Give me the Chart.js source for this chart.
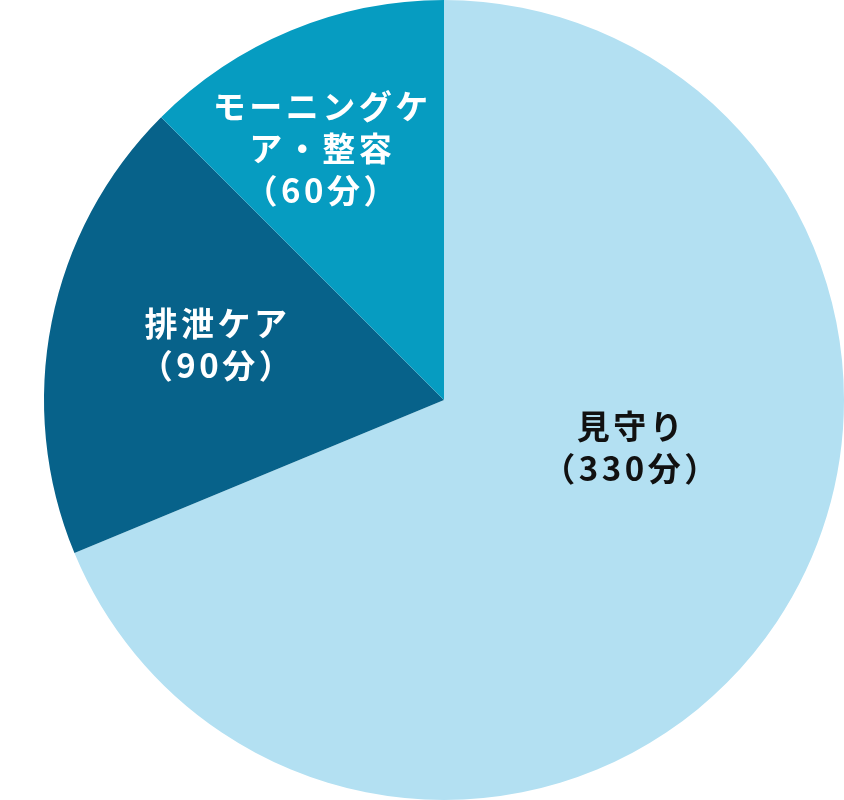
<!DOCTYPE html>
<html lang="ja">
<head>
  <meta charset="UTF-8" />
  <title>ケア時間の内訳</title>
  <style>
    body {
      margin: 0;
      padding: 0;
      background-color: #ffffff;
    }
    canvas {
      display: block;
    }
  </style>
</head>
<body>
  <canvas id="chart" width="844" height="800"></canvas>

  <script src="https://cdn.jsdelivr.net/npm/chart.js"></script>
  <script>
    const categories = ["見守り", "排泄ケア", "モーニングケア・整容"];
    const minutes = [330, 90, 60];
    // how each label is broken into lines on the chart
    const labelLines = [
      ["見守り"],
      ["排泄ケア"],
      ["モーニングケ", "ア・整容"]
    ];
    const sliceColors = ["#b3e0f2", "#07628a", "#069cc1"];
    const textColors = ["#111111", "#ffffff", "#ffffff"];
    // label block centre, as a fraction of the radius from the pie centre
    const labelOffsets = [[0.465, 0.118], [-0.57, -0.138], [-0.308, -0.63]];

    const sliceLabels = {
      id: "sliceLabels",
      afterDatasetsDraw(chart) {
        const ctx = chart.ctx;
        const arcs = chart.getDatasetMeta(0).data;
        ctx.save();
        ctx.font = 'bold 33px "Noto Sans CJK JP", sans-serif';
        ctx.textAlign = "center";
        ctx.textBaseline = "middle";
        if ("letterSpacing" in ctx) ctx.letterSpacing = "3.5px";
        arcs.forEach((arc, i) => {
          const lines = labelLines[i].concat(["（" + minutes[i] + "分）"]);
          const cx = arc.x + arc.outerRadius * labelOffsets[i][0];
          const cy = arc.y + arc.outerRadius * labelOffsets[i][1];
          const lh = 42;
          const top = cy - (lines.length - 1) * lh / 2;
          ctx.fillStyle = textColors[i];
          lines.forEach((t, j) => ctx.fillText(t, cx + 1.5, top + j * lh));
        });
        ctx.restore();
      }
    };

    new Chart(document.getElementById("chart"), {
      type: "pie",
      data: {
        labels: categories,
        datasets: [{
          data: minutes,
          backgroundColor: sliceColors,
          borderWidth: 0
        }]
      },
      options: {
        responsive: false,
        animation: false,
        layout: { padding: { left: 44 } },
        plugins: {
          legend: { display: false },
          tooltip: { enabled: false }
        }
      },
      plugins: [sliceLabels]
    });
  </script>
</body>
</html>
